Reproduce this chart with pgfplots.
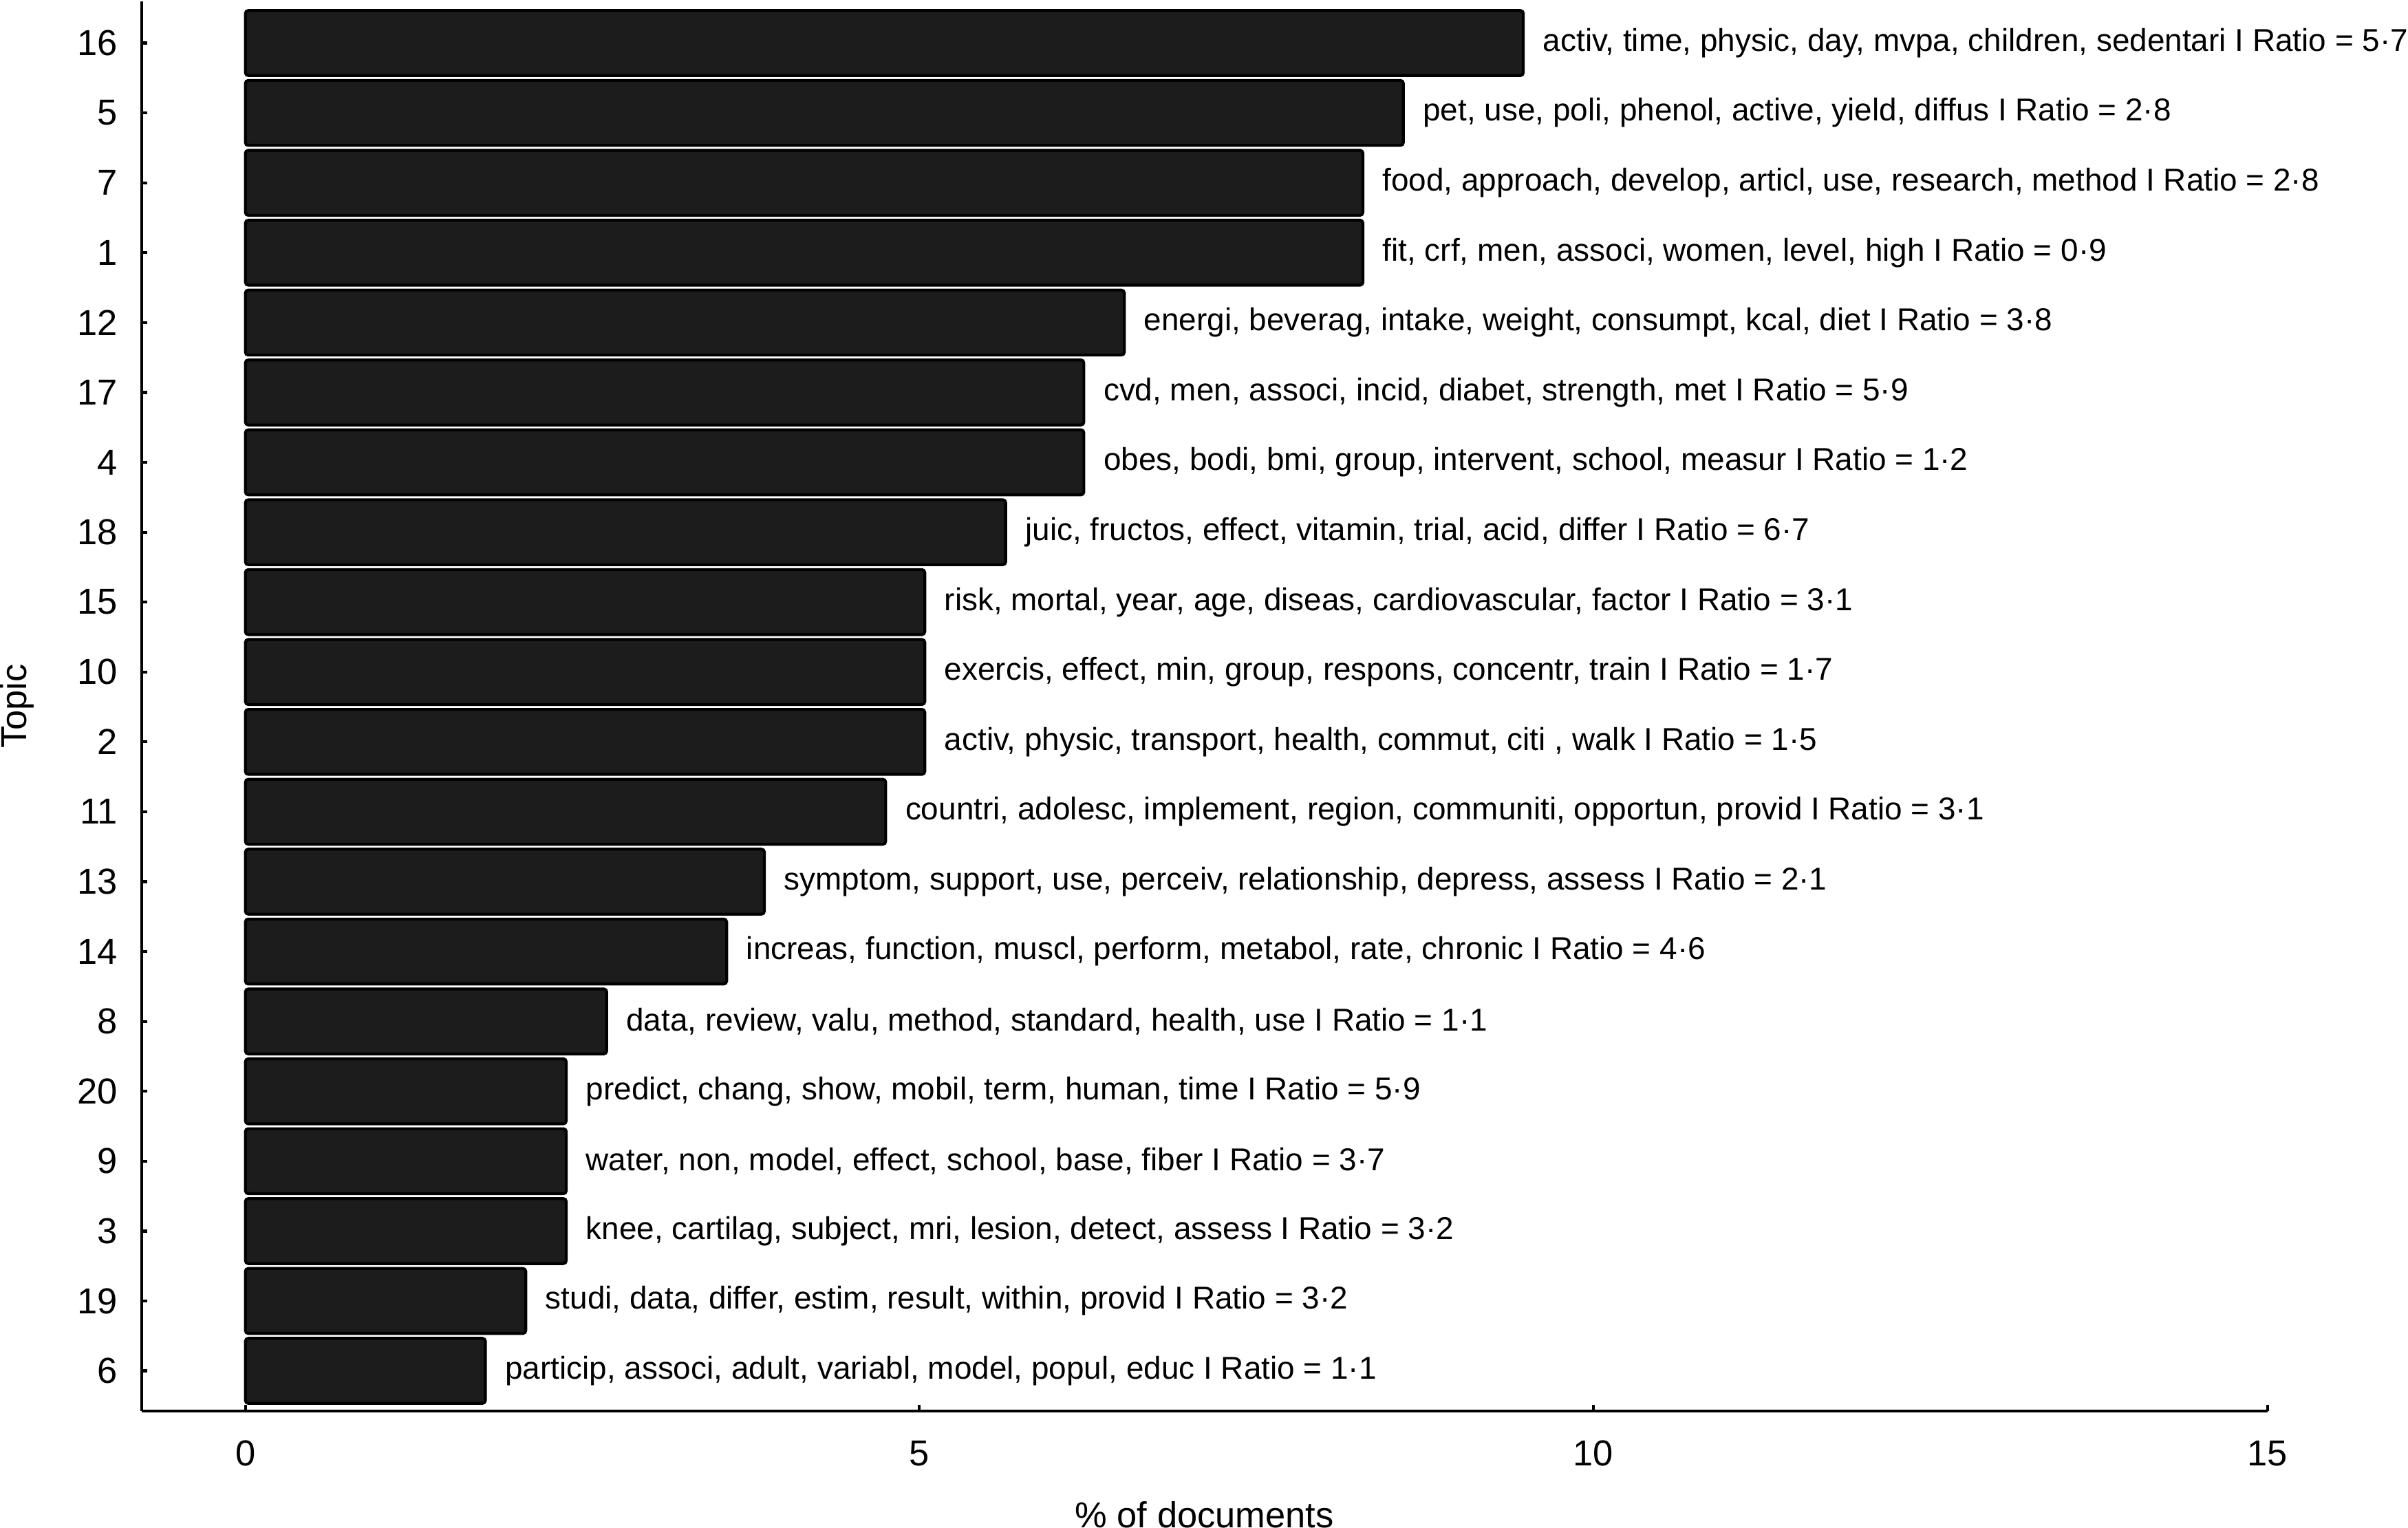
\documentclass[border=0pt]{standalone}
\usepackage{pgfplots}
\pgfplotsset{compat=1.18}
\usepackage{pgfplotstable}
\usepackage{fontspec}
\setmainfont{Liberation Sans}
\definecolor{barfill}{HTML}{1C1C1C}

\pgfplotstableread[col sep=semicolon]{
pos;val;label
20;9.48;activ, time, physic, day, mvpa, children, sedentari I Ratio = 5·7
19;8.59;pet, use, poli, phenol, active, yield, diffus I Ratio = 2·8
18;8.29;food, approach, develop, articl, use, research, method I Ratio = 2·8
17;8.29;fit, crf, men, associ, women, level, high I Ratio = 0·9
16;6.52;energi, beverag, intake, weight, consumpt, kcal, diet I Ratio = 3·8
15;6.22;cvd, men, associ, incid, diabet, strength, met I Ratio = 5·9
14;6.22;obes, bodi, bmi, group, intervent, school, measur I Ratio = 1·2
13;5.64;juic, fructos, effect, vitamin, trial, acid, differ I Ratio = 6·7
12;5.04;risk, mortal, year, age, diseas, cardiovascular, factor I Ratio = 3·1
11;5.04;exercis, effect, min, group, respons, concentr, train I Ratio = 1·7
10;5.04;activ, physic, transport, health, commut, citi , walk I Ratio = 1·5
9;4.75;countri, adolesc, implement, region, communiti, opportun, provid I Ratio = 3·1
8;3.85;symptom, support, use, perceiv, relationship, depress, assess I Ratio = 2·1
7;3.57;increas, function, muscl, perform, metabol, rate, chronic I Ratio = 4·6
6;2.68;data, review, valu, method, standard, health, use I Ratio = 1·1
5;2.38;predict, chang, show, mobil, term, human, time I Ratio = 5·9
4;2.38;water, non, model, effect, school, base, fiber I Ratio = 3·7
3;2.38;knee, cartilag, subject, mri, lesion, detect, assess I Ratio = 3·2
2;2.08;studi, data, differ, estim, result, within, provid I Ratio = 3·2
1;1.78;particip, associ, adult, variabl, model, popul, educ I Ratio = 1·1
}\topics

\begin{document}
\begin{tikzpicture}
\begin{axis}[
  scale only axis,
  width=441.6pt, height=292.8pt,
  xmin=-0.77, xmax=15, ymin=0.427, ymax=20.595,
  axis lines*=left,
  axis line style={line width=0.6pt, black},
  clip=false,
  xbar, bar width=0.93,
  xtick={0,5,10,15}, ytick={1,...,20},
  yticklabels={6,19,3,9,20,8,14,13,11,2,10,15,18,4,17,12,1,7,5,16},
  /pgf/number format/assume math mode=true,
  tick align=inside, major tick length=1.2pt,
  tick style={line width=0.6pt, black},
  tick label style={font=\fontsize{7.5}{9}\selectfont, inner sep=0pt},
  yticklabel shift=4.8pt, xticklabel shift=6pt,
  xlabel={\% of documents}, ylabel={Topic},
  label style={font=\fontsize{7.5}{9}\selectfont, inner sep=0pt},
  xlabel style={at={(axis description cs:0.5,-0.0635)}, anchor=north},
  ylabel style={at={(axis description cs:-0.0587,0.5)}, anchor=center},
  nodes near coords,
  point meta=explicit symbolic,
  nodes near coords style={font=\fontsize{6.56}{8}\selectfont, anchor=west, inner sep=0pt, xshift=3.8pt, text=black},
]
\addplot[draw=black, fill=barfill, line width=0.6pt, rounded corners=0.6pt]
  table[x=val, y=pos, meta=label] {\topics};
\end{axis}
\end{tikzpicture}
\end{document}
